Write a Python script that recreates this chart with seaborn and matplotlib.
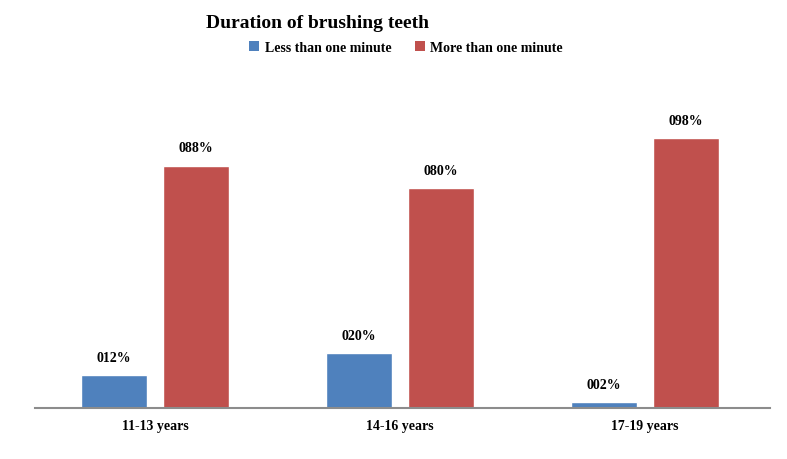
import matplotlib
matplotlib.use("Agg")
import matplotlib.pyplot as plt
import seaborn as sns
import pandas as pd

categories = ["11-13 years", "14-16 years", "17-19 years"]
less_than_one = [12, 20, 2]
more_than_one = [88, 80, 98]
series_names = ["Less than one minute", "More than one minute"]
colors = ["#4F81BD", "#C0504D"]

df = pd.DataFrame({
    "Age": categories * 2,
    "Value": less_than_one + more_than_one,
    "Series": [series_names[0]] * 3 + [series_names[1]] * 3,
})

sns.set_theme(style="white")
plt.rcParams['font.family'] = ['Liberation Serif', 'DejaVu Serif']
plt.rcParams['text.color'] = 'black'
plt.rcParams['xtick.color'] = 'black'

fig = plt.figure(figsize=(7.87, 4.60), dpi=100)
ax = fig.add_axes([35/787, 51/460, 735/787, 303/460])

sns.barplot(data=df, x="Age", y="Value", hue="Series", palette=colors,
            width=0.667, gap=0.19, ax=ax, legend=False, saturation=1)

for cont in ax.containers:
    labels = [f"{int(round(v)):03d}%" for v in cont.datavalues]
    ax.bar_label(cont, labels=labels, padding=8, fontsize=10, fontweight="bold",
                 color="black")

ax.set_xlim(-0.49, 2.51)
ax.set_ylim(0, 110)
ax.set_yticks([])
ax.set_xlabel("")
ax.set_ylabel("")
for s in ["top", "right", "left"]:
    ax.spines[s].set_visible(False)
ax.spines["bottom"].set_color("#8c8c8c")
ax.spines["bottom"].set_linewidth(1.5)
ax.tick_params(axis="x", length=0, pad=8, labelcolor="black")
for t in ax.get_xticklabels():
    t.set_fontweight("bold")
    t.set_fontsize(10)

fig.text(318/787, 1 - 23/460, "Duration of brushing teeth", ha="center", va="center",
         fontsize=14, fontweight="bold", color="black")

from matplotlib.patches import Patch
handles = [Patch(facecolor=c, edgecolor="none") for c in colors]
fig.legend(handles, series_names, loc="center", bbox_to_anchor=(406/787, 1 - 48/460),
           ncol=2, frameon=False, prop={"weight": "bold", "size": 10},
           handlelength=0.7, handleheight=0.7, handletextpad=0.4, columnspacing=1.7,
           labelcolor="black")

fig.savefig("out.png", dpi=100)
